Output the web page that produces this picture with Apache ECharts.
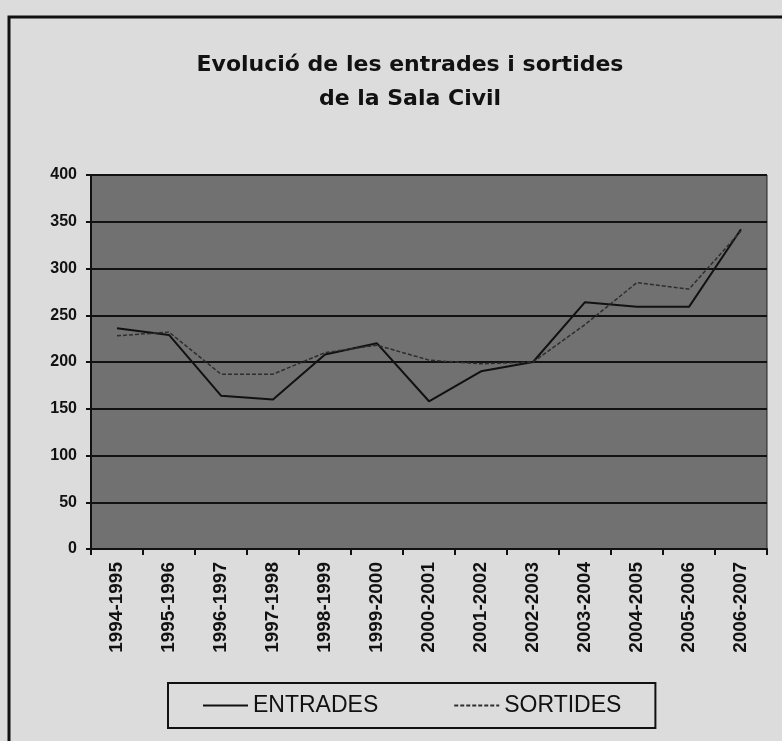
<!DOCTYPE html>
<html>
<head>
<meta charset="utf-8">
<title>Evolució de les entrades i sortides</title>
<script src="https://cdn.jsdelivr.net/npm/echarts@6/dist/echarts.min.js"></script>
<style>
    html, body { margin: 0; padding: 0; background: #dcdcdc; }
    #chart { width: 782px; height: 741px; }
</style>
</head>
<body>
<div id="chart"></div>
<script>
    // curs judicial
    var years = ['1994-1995', '1995-1996', '1996-1997', '1997-1998', '1998-1999', '1999-2000',
        '2000-2001', '2001-2002', '2002-2003', '2003-2004', '2004-2005', '2005-2006', '2006-2007'];
    var entrades = [236, 229, 164, 160, 208, 220, 158, 190, 200, 264, 259, 259, 342];
    var sortides = [228, 232, 187, 187, 210, 218, 202, 198, 200, 240, 285, 278, 340];
    var yTicks = [0, 50, 100, 150, 200, 250, 300, 350, 400];

    var myChart = echarts.init(document.getElementById('chart'));
    var option = {
        backgroundColor: '#dcdcdc',
        animation: false,
        title: {
            text: 'Evolució de les entrades i sortides\nde la Sala Civil',
            left: 405,
            top: 43,
            textAlign: 'center',
            textStyle: {
                fontFamily: 'DejaVu Sans',
                fontWeight: 'bold',
                fontSize: 22,
                lineHeight: 34,
                color: '#111'
            }
        },
        graphic: [
            {
                type: 'rect',
                shape: { x: 9, y: 17, width: 800, height: 800 },
                style: { fill: null, stroke: '#111', lineWidth: 3 },
                silent: true
            }
        ],
        legend: {
            left: 168,
            top: 683,
            padding: [11, 34, 11, 34],
            borderColor: '#111',
            borderWidth: 2,
            itemWidth: 45,
            itemHeight: 14,
            itemGap: 75,
            itemStyle: { opacity: 0 },
            textStyle: {
                fontFamily: 'Liberation Sans',
                fontSize: 23,
                color: '#111'
            },
            data: ['ENTRADES', 'SORTIDES']
        },
        grid: {
            left: 91,
            right: 15,
            top: 175,
            bottom: 192,
            show: true,
            backgroundColor: '#717171',
            borderColor: '#222',
            borderWidth: 1
        },
        xAxis: {
            type: 'category',
            data: years,
            boundaryGap: true,
            axisLine: { lineStyle: { color: '#111', width: 2 } },
            axisTick: { show: true, length: 6, lineStyle: { color: '#111', width: 2 } },
            axisLabel: {
                rotate: 90,
                interval: 0,
                margin: 13,
                fontFamily: 'Liberation Sans',
                fontWeight: 'bold',
                fontSize: 19,
                color: '#111'
            }
        },
        yAxis: {
            type: 'value',
            min: yTicks[0],
            max: yTicks[yTicks.length - 1],
            interval: 50,
            axisLine: { show: true, lineStyle: { color: '#111', width: 2 } },
            axisTick: { show: true, length: 5, lineStyle: { color: '#111', width: 2 } },
            axisLabel: {
                margin: 14,
                fontFamily: 'Liberation Sans',
                fontWeight: 'bold',
                fontSize: 16,
                color: '#111'
            },
            splitLine: { lineStyle: { color: '#111', width: 2 } }
        },
        series: [
            {
                name: 'ENTRADES',
                type: 'line',
                data: entrades,
                symbol: 'none',
                lineStyle: { color: '#111', width: 2 },
                itemStyle: { color: '#111' }
            },
            {
                name: 'SORTIDES',
                type: 'line',
                data: sortides,
                symbol: 'none',
                lineStyle: { color: '#2e2e2e', width: 1.5, type: [4, 2] },
                itemStyle: { color: '#2e2e2e' }
            }
        ]
    };
    myChart.setOption(option);
</script>
</body>
</html>
